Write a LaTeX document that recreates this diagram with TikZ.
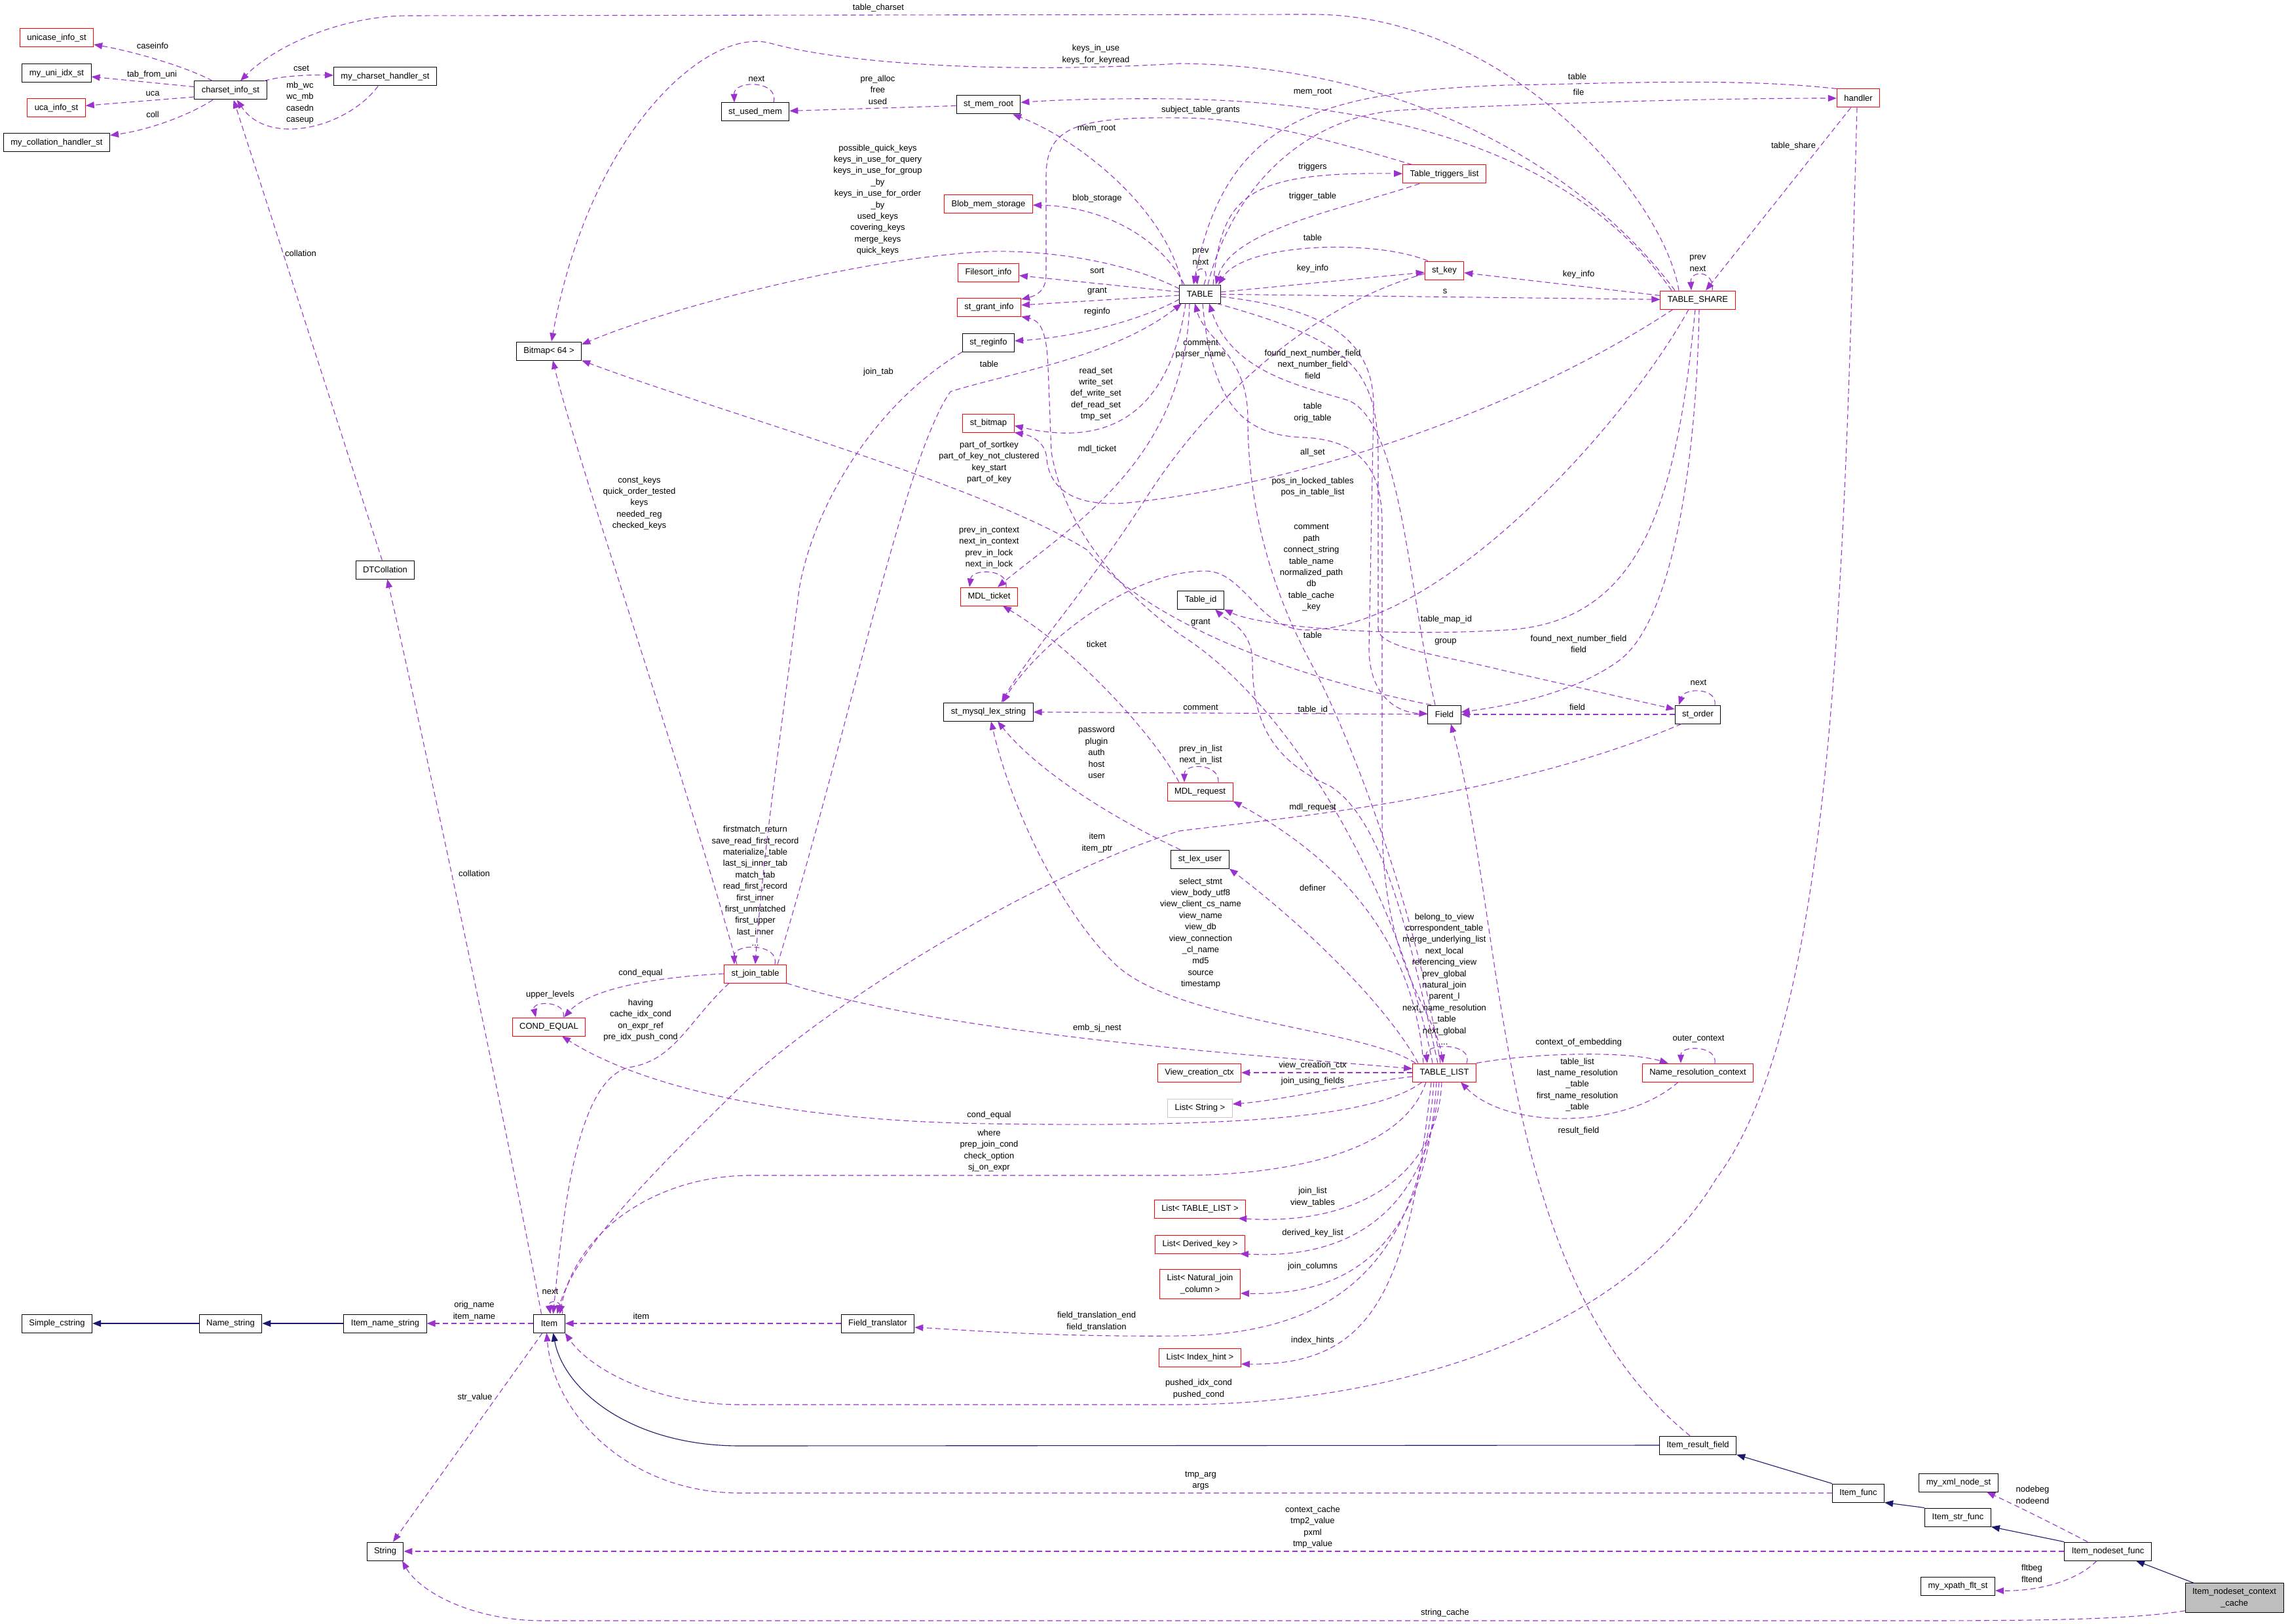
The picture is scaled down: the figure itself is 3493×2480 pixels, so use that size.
\documentclass[tikz,border=0pt]{standalone}
\usepackage{fontspec}
\setmainfont{Liberation Sans}
\usetikzlibrary{arrows.meta, positioning}
\definecolor{memcol}{RGB}{154,50,205}
\definecolor{inhcol}{RGB}{25,25,112}
\definecolor{edgegray}{RGB}{200,200,200}
\definecolor{focusgray}{RGB}{191,191,191}
\newcommand{\gfont}{\fontsize{13}{17.4}\selectfont}

\begin{document}
\begin{tikzpicture}[x=1pt, y=-1pt,
  cls/.style={draw=black, rectangle, line width=1pt, fill=white, inner xsep=11pt, inner ysep=7.5pt, minimum height=28pt, align=center, font=\gfont},
  rcls/.style={cls, draw=red},
  gcls/.style={cls, draw=edgegray},
  focus/.style={cls, fill=focusgray},
  mem/.style={memcol, line width=1.1pt, dash pattern=on 8pt off 5pt, -{Triangle[length=13pt,width=10pt]}},
  inh/.style={inhcol, line width=1.1pt, -{Triangle[length=13pt,width=10pt]}},
  lbl/.style={inner sep=0pt, align=center, font=\gfont, text=black}]
  \useasboundingbox (0,0) rectangle (3493,2480);

  \node[rcls] (unicase) at (86.5,58) {unicase\_info\_st};
  \node[cls] (uniidx) at (86.5,112) {my\_uni\_idx\_st};
  \node[rcls] (ucainfo) at (86,165) {uca\_info\_st};
  \node[cls] (collhandler) at (86.5,218) {my\_collation\_handler\_st};
  \node[cls] (charset) at (352,138) {charset\_info\_st};
  \node[cls] (cshandler) at (588,117) {my\_charset\_handler\_st};
  \node[cls] (bitmap) at (838,536) {Bitmap< 64 >};
  \node[cls] (dtcoll) at (588,870) {DTCollation};
  \node[rcls] (condeq) at (838,1568) {COND\_EQUAL};
  \node[cls] (usedmem) at (1153,171) {st\_used\_mem};
  \node[cls] (memroot) at (1509,160) {st\_mem\_root};
  \node[rcls] (blobmem) at (1509,312) {Blob\_mem\_storage};
  \node[rcls] (filesort) at (1509,416) {Filesort\_info};
  \node[rcls] (grantinfo) at (1510,469) {st\_grant\_info};
  \node[cls] (reginfo) at (1509,523) {st\_reginfo};
  \node[rcls] (stbitmap) at (1509,646) {st\_bitmap};
  \node[rcls] (mdlticket) at (1510,911) {MDL\_ticket};
  \node[cls] (lexstring) at (1509,1087) {st\_mysql\_lex\_string};
  \node[rcls] (jointable) at (1153,1487) {st\_join\_table};
  \node[cls] (table) at (1832,449) {TABLE};
  \node[rcls] (triggers) at (2205,266) {Table\_triggers\_list};
  \node[rcls] (stkey) at (2205,413) {st\_key};
  \node[rcls] (share) at (2592,458) {TABLE\_SHARE};
  \node[rcls] (handler) at (2837,150) {handler};
  \node[cls] (tableid) at (1833,916) {Table\_id};
  \node[cls] (field) at (2205,1091) {Field};
  \node[cls] (order) at (2592,1091) {st\_order};
  \node[rcls] (mdlrequest) at (1832,1209) {MDL\_request};
  \node[cls] (lexuser) at (1832,1312) {st\_lex\_user};
  \node[rcls] (tablelist) at (2205,1638) {TABLE\_LIST};
  \node[rcls] (namectx) at (2592,1638) {Name\_resolution\_context};
  \node[rcls] (viewctx) at (1831,1638) {View\_creation\_ctx};
  \node[gcls] (liststring) at (1832,1692) {List< String >};
  \node[rcls] (listtl) at (1832,1846) {List< TABLE\_LIST >};
  \node[rcls] (listdk) at (1832,1900) {List< Derived\_key >};
  \node[rcls] (listnj) at (1832,1961) {List< Natural\_join\\\_column >};
  \node[rcls] (listih) at (1832,2073) {List< Index\_hint >};
  \node[cls] (fieldtr) at (1340,2021) {Field\_translator};
  \node[cls] (simplecs) at (87,2021) {Simple\_cstring};
  \node[cls] (namestr) at (352,2021) {Name\_string};
  \node[cls] (itemname) at (588,2021) {Item\_name\_string};
  \node[cls] (item) at (838.5,2021) {Item};
  \node[cls] (string) at (588,2369) {String};
  \node[cls] (resultfield) at (2592,2207) {Item\_result\_field};
  \node[cls] (itemfunc) at (2837,2280) {Item\_func};
  \node[cls] (strfunc) at (2989,2317) {Item\_str\_func};
  \node[cls] (nodeset) at (3218,2369) {Item\_nodeset\_func};
  \node[cls] (xmlnode) at (2990,2264) {my\_xml\_node\_st};
  \node[cls] (xpathflt) at (2989,2422) {my\_xpath\_flt\_st};
  \node[focus] (cache) at (3411,2440) {Item\_nodeset\_context\\\_cache};

  \draw[mem] (charset) .. controls (280,100) and (200,78) .. (unicase) node[lbl] at (233,70) {caseinfo};
  \draw[mem] (charset) -- (uniidx) node[lbl] at (232,114) {tab\_from\_uni};
  \draw[mem] ([yshift=-10pt]charset.west) -- (ucainfo) node[lbl] at (233,143) {uca};
  \draw[mem] ([xshift=-27pt]charset.south) .. controls (290,175) and (230,198) .. (collhandler) node[lbl] at (233,175) {coll};
  \draw[mem] (charset) .. controls (430,116) and (470,114) .. (cshandler) node[lbl] at (460,104) {cset};
  \draw[mem] (cshandler) .. controls (530,195) and (410,225) .. (charset) node[lbl] at (458,157) {mb\_wc\\wc\_mb\\casedn\\caseup};
  \draw[mem] (dtcoll) -- (charset) node[lbl] at (459,387) {collation};
  \draw[mem] ([xshift=-29pt]share.north) .. controls (2540,300) and (2300,20) .. (2000,22) -- (620,24) .. controls (520,25) and (420,70) .. ([xshift=15pt]charset.north) node[lbl] at (1341,12) {table\_charset};
  \draw[mem] ([xshift=-35pt]share.north) .. controls (2420,260) and (2150,100) .. (1800,97) .. controls (1550,112) and (1300,100) .. (1176,66) .. controls (1080,40) and (900,200) .. ([xshift=4pt]bitmap.north) node[lbl] at (1673,83) {keys\_in\_use\\keys\_for\_keyread};
  \draw[mem] ([xshift=-40pt]share.north) .. controls (2450,300) and (2250,160) .. (1800,151) .. controls (1700,150) and (1620,152) .. (memroot) node[lbl] at (2004,141) {mem\_root};
  \draw[mem] (memroot) -- (usedmem) node[lbl] at (1340,137) {pre\_alloc\\free\\used};
  \draw[mem] ([xshift=28pt]usedmem.north) .. controls (1190,122) and (1120,122) .. ([xshift=-32pt]usedmem.north) node[lbl] at (1155,120) {next};
  \draw[mem] ([xshift=-27pt]table.north) .. controls (1780,320) and (1650,215) .. (memroot) node[lbl] at (1674,197) {mem\_root};
  \draw[mem] ([xshift=-24pt]table.north) .. controls (1770,360) and (1680,315) .. (blobmem) node[lbl] at (1675,303) {blob\_storage};
  \draw[mem] ([yshift=8pt]table.west) .. controls (1700,390) and (1560,380) .. (1491,385) .. controls (1300,398) and (1020,470) .. ([yshift=10pt]bitmap.east) node[lbl] at (1340,305) {possible\_quick\_keys\\keys\_in\_use\_for\_query\\keys\_in\_use\_for\_group\\\_by\\keys\_in\_use\_for\_order\\\_by\\used\_keys\\covering\_keys\\merge\_keys\\quick\_keys};
  \draw[mem] (table) -- (filesort) node[lbl] at (1675,413) {sort};
  \draw[mem] (table) -- (grantinfo) node[lbl] at (1675,445) {grant};
  \draw[mem] ([yshift=-8pt]table.west) .. controls (1740,490) and (1640,515) .. (reginfo) node[lbl] at (1675,476) {reginfo};
  \draw[mem] ([xshift=15pt]triggers.north west) .. controls (2000,205) and (1900,180) .. (1800,180) .. controls (1640,178) and (1597,195) .. (1597,270) -- (1597,420) .. controls (1597,445) and (1580,452) .. (grantinfo) node[lbl] at (1833,168) {subject\_table\_grants};
  \draw[mem] ([xshift=20pt]table.north) .. controls (1865,300) and (1900,262) .. (triggers) node[lbl] at (2004,255) {triggers};
  \draw[mem] ([xshift=-38pt]triggers.south) .. controls (2050,320) and (1880,350) .. ([xshift=24pt]table.north) node[lbl] at (2004,300) {trigger\_table};
  \draw[mem] ([xshift=6pt]table.north) .. controls (1850,405) and (1824,405) .. ([xshift=-4pt]table.north) node[lbl] at (1833,392) {prev\\next};
  \draw[mem] (handler.north west) .. controls (2650,118) and (2450,128) .. (2300,130) .. controls (2000,140) and (1870,190) .. ([xshift=-10pt]table.north) node[lbl] at (2408,117) {table};
  \draw[mem] ([xshift=12pt]table.north) .. controls (1880,290) and (1990,175) .. (2144,168) .. controls (2350,158) and (2600,150) .. (handler) node[lbl] at (2410,141) {file};
  \draw[mem] ([xshift=-25pt]stkey.north) .. controls (2100,365) and (1900,370) .. ([xshift=28pt]table.north) node[lbl] at (2004,363) {table};
  \draw[mem] (table) -- (stkey) node[lbl] at (2004,410) {key\_info};
  \draw[mem] (share) -- (stkey) node[lbl] at (2410,419) {key\_info};
  \draw[mem] (table) -- (share) node[lbl] at (2206,445) {s};
  \draw[mem] ([xshift=22pt]share.north) .. controls (2618,412) and (2580,412) .. ([xshift=-10pt]share.north) node[lbl] at (2592,402) {prev\\next};
  \draw[mem] (handler) -- ([xshift=12pt]share.north) node[lbl] at (2738,223) {table\_share};
  \draw[mem] ([yshift=-5pt]stkey.west) .. controls (1990,470) and (1840,620) .. (1750,760) .. controls (1660,900) and (1570,1000) .. ([xshift=20pt]lexstring.north) node[lbl] at (1833,533) {comment\\parser\_name};
  \draw[mem] ([yshift=-4pt]table.east) .. controls (2010,470) and (2097,510) .. (2097,620) -- (2090,990) .. controls (2090,1060) and (2130,1088) .. (field) node[lbl] at (2004,556) {found\_next\_number\_field\\next\_number\_field\\field};
  \draw[mem] ([xshift=-14pt]field.north) .. controls (2150,900) and (2140,650) .. (2060,612) .. controls (1990,590) and (1880,570) .. ([xshift=14pt]table.south) node[lbl] at (2004,630) {table\\orig\_table};
  \draw[mem] ([xshift=4pt]table.south) .. controls (1850,620) and (1900,665) .. (1990,668) .. controls (2080,672) and (2110,720) .. (2110,800) -- (2110,1250) .. controls (2110,1480) and (2190,1540) .. ([xshift=-2pt]tablelist.north) node[lbl] at (2004,743.5) {pos\_in\_locked\_tables\\pos\_in\_table\_list};
  \draw[mem] ([xshift=-14pt]share.south) .. controls (2480,650) and (2200,960) .. (1995,962) .. controls (1920,962) and (1900,872) .. (1840,872) .. controls (1720,872) and (1580,990) .. ([xshift=22pt]lexstring.north) node[lbl] at (2002,867) {comment\\path\\connect\_string\\table\_name\\normalized\_path\\db\\table\_cache\\\_key};
  \draw[mem] ([xshift=-4pt]share.south) .. controls (2560,760) and (2510,950) .. (2300,962) .. controls (2100,974) and (1920,955) .. (tableid.south east) node[lbl] at (2208,946) {table\_map\_id};
  \draw[mem] ([xshift=-6pt]table.south east) .. controls (2060,520) and (2104,560) .. (2104,700) -- (2104,960) .. controls (2104,990) and (2200,1000) .. (2300,1025) -- (order) node[lbl] at (2207,980) {group};
  \draw[mem] ([xshift=2pt]share.south) .. controls (2590,700) and (2555,950) .. (2470,1010) .. controls (2400,1060) and (2300,1078) .. (field) node[lbl] at (2410,983.5) {found\_next\_number\_field\\field};
  \draw[mem] (order) -- (field) node[lbl] at (2408,1080) {field};
  \draw[mem] ([xshift=26pt]order.north) .. controls (2622,1050) and (2572,1050) .. ([xshift=-29pt]order.north) node[lbl] at (2593,1042) {next};
  \draw[mem] (field) -- (lexstring) node[lbl] at (1833,1080) {comment};
  \draw[mem] ([xshift=-10pt]tablelist.north) .. controls (2150,1420) and (2110,1250) .. (2030,1200) .. controls (1940,1160) and (1912,1100) .. (1912,1010) .. controls (1912,960) and (1870,945) .. ([xshift=22pt]tableid.south) node[lbl] at (2004,1084) {table\_id};
  \draw[mem] ([xshift=-18pt]tablelist.north) .. controls (2140,1380) and (1980,1080) .. (1800,968) .. controls (1680,880) and (1620,780) .. (1605,690) -- (1600,560) .. controls (1598,510) and (1590,490) .. (grantinfo.south east) node[lbl] at (1833,951) {grant};
  \draw[mem] ([xshift=-6pt]tablelist.north) .. controls (2160,1380) and (2060,1120) .. (2000,1010) .. controls (1930,880) and (1905,750) .. (1905,640) .. controls (1905,540) and (1840,520) .. ([xshift=-8pt]table.south) node[lbl] at (2004,970) {table};
  \draw[mem] ([xshift=-32pt]tablelist.north) .. controls (2160,1450) and (2060,1320) .. (mdlrequest.south east) node[lbl] at (2004,1233) {mdl\_request};
  \draw[mem] ([xshift=-32pt]mdlrequest.north) .. controls (1760,1120) and (1640,990) .. ([xshift=21pt]mdlticket.south) node[lbl] at (1674,984) {ticket};
  \draw[mem] ([xshift=26pt]mdlticket.north) .. controls (1540,868) and (1484,868) .. ([xshift=-30pt]mdlticket.north) node[lbl] at (1510,836) {prev\_in\_context\\next\_in\_context\\prev\_in\_lock\\next\_in\_lock};
  \draw[mem] ([xshift=-16pt]table.south) .. controls (1810,700) and (1640,800) .. ([xshift=13pt]mdlticket.north) node[lbl] at (1675,686) {mdl\_ticket};
  \draw[mem] ([xshift=28pt]mdlrequest.north) .. controls (1862,1165) and (1808,1165) .. ([xshift=-24pt]mdlrequest.north) node[lbl] at (1833,1152.5) {prev\_in\_list\\next\_in\_list};
  \draw[mem] ([xshift=-30pt]lexuser.north) .. controls (1720,1260) and (1590,1185) .. ([xshift=14pt]lexstring.south) node[lbl] at (1674,1149) {password\\plugin\\auth\\host\\user};
  \draw[mem] ([xshift=-40pt]tablelist.north) .. controls (2120,1540) and (2000,1420) .. (lexuser.south east) node[lbl] at (2004,1356) {definer};
  \draw[mem] ([xshift=-44pt]tablelist.north) .. controls (2080,1570) and (1790,1560) .. (1700,1470) .. controls (1610,1380) and (1540,1220) .. ([xshift=4pt]lexstring.south) node[lbl] at (1833,1425) {select\_stmt\\view\_body\_utf8\\view\_client\_cs\_name\\view\_name\\view\_db\\view\_connection\\\_cl\_name\\md5\\source\\timestamp};
  \draw[mem] (jointable.south east) .. controls (1450,1580) and (1900,1610) .. ([yshift=6pt]tablelist.west) node[lbl] at (1675,1570) {emb\_sj\_nest};
  \draw[mem] ([xshift=34pt]tablelist.north) .. controls (2250,1592) and (2175,1592) .. ([xshift=-26pt]tablelist.north) node[lbl] at (2205,1495) {belong\_to\_view\\correspondent\_table\\merge\_underlying\_list\\next\_local\\referencing\_view\\prev\_global\\natural\_join\\parent\_l\\next\_name\_resolution\\\_table\\next\_global\\...};
  \draw[mem] (tablelist.north east) .. controls (2340,1608) and (2480,1604) .. ([xshift=40pt]namectx.north west) node[lbl] at (2410,1592) {context\_of\_embedding};
  \draw[mem] ([xshift=26pt]namectx.north) .. controls (2622,1596) and (2566,1596) .. ([xshift=-26pt]namectx.north) node[lbl] at (2593,1587) {outer\_context};
  \draw[mem] ([xshift=-30pt]namectx.south) .. controls (2480,1725) and (2300,1725) .. ([xshift=25pt]tablelist.south) node[lbl] at (2408,1656.5) {table\_list\\last\_name\_resolution\\\_table\\first\_name\_resolution\\\_table};
  \draw[mem] (tablelist) -- (viewctx) node[lbl] at (2004,1627) {view\_creation\_ctx};
  \draw[mem] ([yshift=-6pt]tablelist.west) .. controls (2060,1655) and (1960,1680) .. ([yshift=6pt]liststring.east) node[lbl] at (2004,1651) {join\_using\_fields};
  \draw[mem] ([xshift=-34pt]tablelist.south) .. controls (2100,1705) and (1900,1722) .. (1510,1716) .. controls (1200,1712) and (980,1660) .. ([xshift=20pt]condeq.south) node[lbl] at (1510,1703) {cond\_equal};
  \draw[mem] ([xshift=-28pt]tablelist.south) .. controls (2140,1765) and (1950,1795) .. (1800,1795) -- (1141,1795) .. controls (1000,1797) and (880,1880) .. ([xshift=16pt]item.north) node[lbl] at (1510,1757) {where\\prep\_join\_cond\\check\_option\\sj\_on\_expr};
  \draw[mem] (jointable.west) .. controls (1000,1492) and (900,1510) .. ([xshift=23pt]condeq.north) node[lbl] at (978,1486) {cond\_equal};
  \draw[mem] ([xshift=22pt]condeq.north) .. controls (866,1528) and (812,1528) .. ([xshift=-20pt]condeq.north) node[lbl] at (840,1519) {upper\_levels};
  \draw[mem] ([xshift=-40pt]jointable.south) .. controls (1050,1560) and (1030,1620) .. (960,1630) .. controls (880,1650) and (860,1850) .. ([xshift=6pt]item.north) node[lbl] at (978,1558) {having\\cache\_idx\_cond\\on\_expr\_ref\\pre\_idx\_push\_cond};
  \draw[mem] ([xshift=-4pt]tablelist.south) .. controls (2195,1790) and (2080,1872) .. ([xshift=-12pt]listtl.south east) node[lbl] at (2004,1828) {join\_list\\view\_tables};
  \draw[mem] ([xshift=-8pt]tablelist.south) .. controls (2185,1820) and (2090,1925) .. ([xshift=-8pt]listdk.south east) node[lbl] at (2004,1883) {derived\_key\_list};
  \draw[mem] ([xshift=-12pt]tablelist.south) .. controls (2180,1870) and (2090,1980) .. ([yshift=-14pt]listnj.east) node[lbl] at (2004,1934) {join\_columns};
  \draw[mem] ([xshift=-16pt]tablelist.south) .. controls (2170,1920) and (2050,2038) .. (1800,2040) .. controls (1600,2042) and (1460,2030) .. ([yshift=-6pt]fieldtr.east) node[lbl] at (1674,2018) {field\_translation\_end\\field\_translation};
  \draw[mem] ([xshift=-20pt]tablelist.south) .. controls (2150,1980) and (2090,2085) .. ([yshift=-10pt]listih.east) node[lbl] at (2004,2047) {index\_hints};
  \draw[mem] ([xshift=-2pt]handler.south) .. controls (2815,900) and (2800,1560) .. (2620,1800) .. controls (2470,2050) and (2100,2145) .. (1800,2145) -- (1130,2145) .. controls (1000,2145) and (900,2090) .. (item.south east) node[lbl] at (1830,2121) {pushed\_idx\_cond\\pushed\_cond};
  \draw[mem] ([xshift=-12pt]resultfield.north) .. controls (2280,1950) and (2300,1420) .. ([xshift=10pt]field.south) node[lbl] at (2410,1727) {result\_field};
  \draw[inh] (resultfield.west) -- (1130,2208) .. controls (960,2208) and (860,2120) .. ([xshift=6pt]item.south);
  \draw[inh] (itemfunc.north west) -- (resultfield.south east);
  \draw[inh] (strfunc.north west) -- (itemfunc.south east);
  \draw[inh] (nodeset.north west) -- (strfunc.south east);
  \draw[inh] ([xshift=-62pt]cache.north) -- ([xshift=43pt]nodeset.south);
  \draw[mem] (itemfunc.west) -- (1130,2280) .. controls (960,2280) and (845,2160) .. ([xshift=-4pt]item.south) node[lbl] at (1833,2261) {tmp\_arg\\args};
  \draw[mem] (nodeset) -- (string) node[lbl] at (2004,2332) {context\_cache\\tmp2\_value\\pxml\\tmp\_value};
  \draw[mem] ([xshift=-31pt]nodeset.north) .. controls (3140,2330) and (3080,2300) .. ([xshift=43pt]xmlnode.south) node[lbl] at (3103,2283) {nodebeg\\nodeend};
  \draw[mem] ([xshift=-17pt]nodeset.south) .. controls (3170,2415) and (3110,2430) .. ([yshift=-7pt]xpathflt.east) node[lbl] at (3102,2403) {fltbeg\\fltend};
  \draw[mem] ([yshift=3pt]cache.south west) .. controls (3250,2474) and (3100,2475) .. (2900,2475) -- (830,2475) .. controls (720,2475) and (640,2430) .. ([xshift=26pt]string.south) node[lbl] at (2206,2463) {string\_cache};
  \draw[mem] (item) -- ([xshift=12pt]string.north) node[lbl] at (725,2134) {str\_value};
  \draw[mem] (item) -- (itemname) node[lbl] at (724,2002) {orig\_name\\item\_name};
  \draw[inh] (itemname) -- (namestr);
  \draw[inh] (namestr) -- (simplecs);
  \draw[mem] ([xshift=20pt]item.north) .. controls (862,1984) and (836,1984) .. ([xshift=2pt]item.north) node[lbl] at (840,1972) {next};
  \draw[mem] (fieldtr) -- (item) node[lbl] at (979,2010) {item};
  \draw[mem] ([xshift=-25pt]order.south) .. controls (2300,1220) and (1950,1250) .. (1800,1269) .. controls (1560,1345) and (1250,1545) .. (1130,1660) .. controls (960,1825) and (875,1920) .. ([xshift=12pt]item.north) node[lbl] at (1675,1287) {item\\item\_ptr};
  \draw[mem] ([xshift=-12pt]item.north) .. controls (770,1700) and (640,1100) .. (dtcoll) node[lbl] at (724,1334) {collation};
  \draw[mem] ([xshift=-28pt]jointable.north) .. controls (1050,1200) and (880,700) .. ([xshift=6pt]bitmap.south) node[lbl] at (976,768.5) {const\_keys\\quick\_order\_tested\\keys\\needed\_reg\\checked\_keys};
  \draw[mem] ([xshift=30pt]jointable.north) .. controls (1190,1440) and (1120,1440) .. ([xshift=-32pt]jointable.north) node[lbl] at (1153,1353) {firstmatch\_return\\save\_read\_first\_record\\materialize\_table\\last\_sj\_inner\_tab\\match\_tab\\read\_first\_record\\first\_inner\\first\_unmatched\\first\_upper\\last\_inner\\...};
  \draw[mem] ([xshift=-20pt]field.north) .. controls (2000,1040) and (1760,960) .. (1660,840) .. controls (1500,740) and (1100,630) .. (bitmap.south east) node[lbl] at (1510,706) {part\_of\_sortkey\\part\_of\_key\_not\_clustered\\key\_start\\part\_of\_key};
  \draw[mem] ([xshift=-22pt]table.south) .. controls (1790,600) and (1720,690) .. ([yshift=-4pt]stbitmap.east) node[lbl] at (1673,601.5) {read\_set\\write\_set\\def\_write\_set\\def\_read\_set\\tmp\_set};
  \draw[mem] ([xshift=-38pt]share.south) .. controls (2300,640) and (1950,745) .. (1720,768) .. controls (1620,776) and (1600,730) .. (1598,700) .. controls (1596,675) and (1575,665) .. (stbitmap.south east) node[lbl] at (2004,691) {all\_set};
  \draw[mem] (reginfo.south west) .. controls (1330,620) and (1240,780) .. (1220,900) .. controls (1195,1100) and (1165,1300) .. (jointable.north) node[lbl] at (1341,568) {join\_tab};
  \draw[mem] ([xshift=34pt]jointable.north) .. controls (1300,1100) and (1380,700) .. (1451,598) .. controls (1540,570) and (1700,545) .. ([xshift=-28pt]table.south) node[lbl] at (1510,556) {table};
\end{tikzpicture}
\end{document}
